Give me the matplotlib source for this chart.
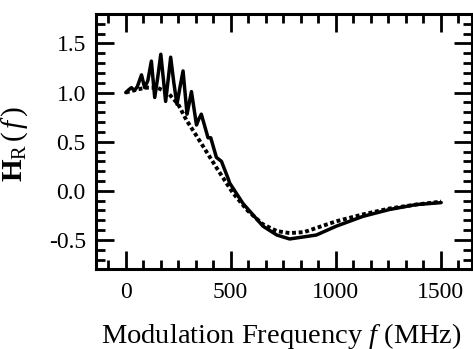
import matplotlib
matplotlib.use("Agg")
import matplotlib.pyplot as plt
from matplotlib.ticker import MultipleLocator, FormatStrFormatter

plt.rcParams['font.family'] = ['Liberation Serif', 'DejaVu Serif']
plt.rcParams['mathtext.fontset'] = 'custom'
plt.rcParams['mathtext.rm'] = 'Liberation Serif'
plt.rcParams['mathtext.it'] = 'Liberation Serif:italic'
plt.rcParams['mathtext.bf'] = 'Liberation Serif:bold'

# solid curve (measured, with ripples)
f_solid = [0, 15, 27, 41, 55, 75, 90, 105, 122, 138, 152, 167, 190, 203, 214,
           229, 244, 258, 273, 292, 303, 313, 337, 348, 360, 392, 405, 432,
           456, 487, 495, 559, 654, 720, 781, 908, 1003, 1130, 1257, 1384, 1503]
h_solid = [1.00, 1.03, 1.05, 1.02, 1.06, 1.18, 1.05, 1.12, 1.32, 0.95, 1.15,
           1.39, 0.91, 1.15, 1.36, 1.10, 0.88, 1.05, 1.22, 0.78, 0.90, 1.01,
           0.67, 0.73, 0.78, 0.54, 0.54, 0.34, 0.30, 0.13, 0.08, -0.13, -0.36,
           -0.45, -0.49, -0.45, -0.36, -0.26, -0.19, -0.14, -0.12]

# dotted curve (smooth model)
f_dot = [0, 50, 100, 150, 200, 250, 289, 340, 384, 440, 510, 580, 653, 720,
         781, 850, 1003, 1130, 1257, 1384, 1503]
h_dot = [1.00, 1.03, 1.05, 1.05, 1.00, 0.88, 0.72, 0.55, 0.40, 0.21, -0.02,
         -0.20, -0.34, -0.41, -0.43, -0.42, -0.31, -0.24, -0.18, -0.14, -0.11]

fig = plt.figure(figsize=(4.73, 3.49), dpi=100)
ax = fig.add_axes([0.202, 0.228, 0.795, 0.732])

ax.plot(f_dot, h_dot, color='black', lw=2.8, linestyle=(0, (1, 0.7)))
ax.plot(f_solid, h_solid, color='black', lw=2.5, solid_joinstyle='round',
        solid_capstyle='round')

ax.set_xlim(-144, 1648)
ax.set_ylim(-0.8, 1.8)
ax.xaxis.set_major_locator(MultipleLocator(500))
ax.xaxis.set_minor_locator(MultipleLocator(500 / 6))
ax.yaxis.set_major_locator(MultipleLocator(0.5))
ax.yaxis.set_minor_locator(MultipleLocator(0.1))
ax.yaxis.set_major_formatter(FormatStrFormatter('%.1f'))

for s in ax.spines.values():
    s.set_linewidth(2.2)
ax.tick_params(which='both', direction='in', top=True, right=True, labelsize=17)
ax.tick_params(which='major', length=13, width=2)
ax.tick_params(which='minor', length=6.5, width=2)
ax.tick_params(axis='x', which='major', pad=9)
ax.tick_params(axis='y', which='major', pad=7)

ax.set_xlabel('Modulation Frequency $f$ (MHz)', fontsize=20.5)
ax.xaxis.set_label_coords(0.493, -0.2)
ax.set_ylabel(r'$\mathbf{H}_\mathrm{R}\,(\,f\,)$', fontsize=21)
ax.yaxis.set_label_coords(-0.175, 0.49)

fig.savefig('out.png', dpi=100)
